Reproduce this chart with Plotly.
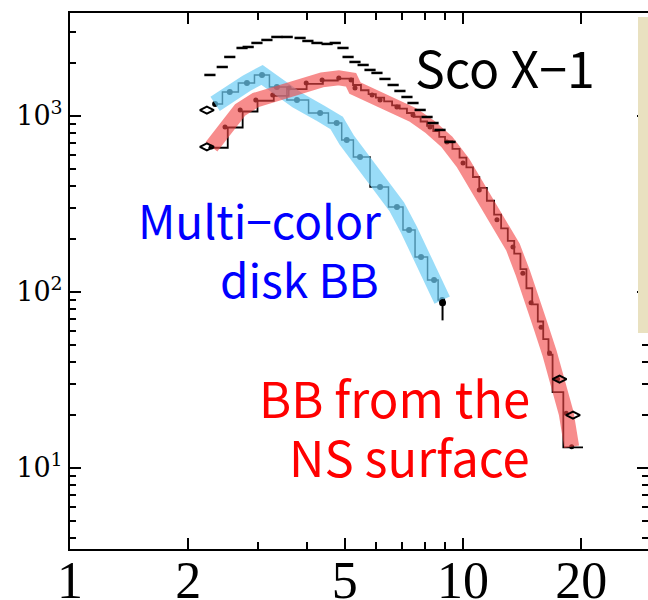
import plotly.graph_objects as go

# ---- data (energy in keV, counts) ----
total_E = [2.27, 2.44, 2.55, 2.74, 2.84, 2.99, 3.17, 3.36, 3.57, 3.85, 4.03, 4.25, 4.51, 4.73, 4.95,
           5.10, 5.31, 5.57, 5.80, 6.04, 6.33, 6.64, 6.91, 7.20, 7.46, 7.78, 8.10, 8.39, 8.74, 9.27]
total_C = [1710, 1898, 2164, 2434, 2466, 2599, 2703, 2811, 2811, 2775, 2668, 2599, 2566, 2599, 2434,
           2164, 2027, 1949, 1826, 1756, 1623, 1500, 1387, 1282, 1185, 1082, 987, 912, 833, 712]

bb_E = [2.29, 2.48, 2.71, 2.97, 3.28, 3.61, 3.99, 4.38, 4.83, 5.19, 5.31, 5.87, 6.15, 6.79, 7.46,
        8.24, 9.10, 10.0, 11.0, 12.2, 13.4, 14.2, 14.9, 15.8, 16.6, 17.4, 18.3, 18.9]
bb_C = [667, 866, 1082, 1233, 1316, 1442, 1540, 1603, 1645, 1603, 1442, 1316, 1233, 1125, 1013,
        866, 712, 541, 380, 257, 180, 128, 87, 63, 45, 32, 20.5, 13.2]

bb_step_E = [2.25, 2.52, 2.75, 3.0, 3.3, 3.6, 4.0, 4.4, 4.8, 5.25, 5.5, 5.75, 6.0, 6.3, 6.6, 6.9,
             7.2, 7.5, 7.8, 8.1, 8.4, 8.7, 9.0, 9.4, 9.8, 10.2, 10.6, 11.0, 11.5, 12.0, 12.5,
             13.0, 13.5, 14.0, 14.5, 15.0, 15.5, 16.0, 16.5, 16.9, 18.0, 20.2]
bb_step_C = [660, 860, 1060, 1220, 1300, 1420, 1520, 1590, 1630, 1500, 1400, 1330, 1270, 1210, 1150, 1100,
             1040, 990, 930, 880, 820, 760, 720, 650, 580, 510, 450, 390, 330, 275, 230,
             195, 165, 135, 105, 85, 68, 54, 44, 27, 13.1, 13.1]

disk_E = [2.34, 2.55, 2.82, 3.08, 3.36, 3.78, 4.33, 4.77, 5.06, 5.47, 6.15, 6.79, 7.29, 7.82, 8.44, 8.85]
disk_C = [1170, 1369, 1540, 1710, 1461, 1233, 1040, 912, 730, 585, 395, 304, 225, 158, 117, 90]

edge_E = [2.23, 2.23, 17.6, 19.05]
edge_C = [1080, 667, 32, 20]

last_E = [8.87]
last_C = [87]
last_err = [18]

x_tickvals = [1, 2, 5, 10, 20]
x_ticktext = ["1", "2", "5", "10", "20"]
x_minor = [3, 4, 6, 7, 8, 9, 30]
y_tickvals = [10, 100, 1000]
y_ticktext = ["10<sup>1</sup>", "10<sup>2</sup>", "10<sup>3</sup>"]
y_minor = [3, 4, 5, 6, 7, 8, 9, 20, 30, 40, 50, 60, 70, 80, 90,
           200, 300, 400, 500, 600, 700, 800, 900, 2000, 3000]

fig = go.Figure()

# black step histograms (underneath the coloured bands)
fig.add_trace(go.Scatter(x=bb_step_E, y=bb_step_C, mode="lines", line=dict(color="black", width=1.8, shape="hv"),
                         showlegend=False, hoverinfo="skip"))
fig.add_trace(go.Scatter(x=disk_E, y=disk_C, mode="lines+markers", line=dict(color="black", width=1.5, shape="hvh"),
                         marker=dict(color="black", size=6), showlegend=False, hoverinfo="skip"))
fig.add_trace(go.Scatter(x=bb_E, y=bb_C, mode="markers", marker=dict(color="black", size=5),
                         showlegend=False, hoverinfo="skip"))

# coloured model bands
fig.add_trace(go.Scatter(x=disk_E, y=disk_C, mode="lines",
                         line=dict(color="rgba(110,205,245,0.7)", width=17),
                         showlegend=False, hoverinfo="skip"))
fig.add_trace(go.Scatter(x=bb_E, y=bb_C, mode="lines",
                         line=dict(color="rgba(242,70,70,0.62)", width=15),
                         showlegend=False, hoverinfo="skip"))

# total spectrum (dashes)
fig.add_trace(go.Scatter(x=total_E, y=total_C, mode="markers",
                         marker=dict(symbol="line-ew", size=8, line=dict(color="black", width=2.5)),
                         showlegend=False, hoverinfo="skip"))
fig.add_trace(go.Scatter(x=edge_E, y=edge_C, mode="markers",
                         marker=dict(symbol="diamond-wide-open", size=10, color="black",
                                     line=dict(color="black", width=2)),
                         showlegend=False, hoverinfo="skip"))
fig.add_trace(go.Scatter(x=last_E, y=last_C, mode="markers",
                         marker=dict(color="black", size=7),
                         error_y=dict(type="data", array=[4], arrayminus=last_err, color="black", thickness=2, width=0),
                         showlegend=False, hoverinfo="skip"))

# plot area in page pixels: x 70..648, y 13..549
def px(xp):
    return (xp - 70) / 578.0

def py(yp):
    return (549 - yp) / 536.0

font_j = "Noto Sans CJK JP, Noto Sans, sans-serif"
ann = [
    dict(text="Sco X\u22121", x=px(413), y=py(66), xanchor="left", color="black", size=50),
    dict(text="Multi\u2212color", x=px(383), y=py(219), xanchor="right", color="#0000ff", size=46),
    dict(text="disk BB", x=px(381), y=py(278), xanchor="right", color="#0000ff", size=46),
    dict(text="BB from the", x=px(532), y=py(396), xanchor="right", color="#ff0000", size=49),
    dict(text="NS surface", x=px(532), y=py(455), xanchor="right", color="#ff0000", size=49),
]
for a in ann:
    fig.add_annotation(text=a["text"], x=a["x"], y=a["y"], xref="paper", yref="paper",
                       xanchor=a["xanchor"], yanchor="middle", showarrow=False,
                       font=dict(family=font_j, size=a["size"], color=a["color"]))

# beige panel at the right edge
fig.add_shape(type="rect", xref="paper", yref="paper", x0=px(638), x1=1.02, y0=py(333), y1=py(17),
              fillcolor="rgb(233,225,192)", line=dict(width=0), layer="above")

fig.update_xaxes(type="log", range=[0, 1.4707], tickvals=x_tickvals, ticktext=x_ticktext, automargin=False,
                 ticks="inside", ticklen=11, tickwidth=2, tickcolor="black", ticklabelstandoff=-15,
                 minor=dict(ticks="inside", ticklen=7, tickwidth=2, tickcolor="black", tickvals=x_minor),
                 showline=True, linewidth=2, linecolor="black", mirror="ticks", showgrid=False, zeroline=False,
                 tickfont=dict(family="Liberation Serif, serif", size=52, color="black"))
fig.update_yaxes(type="log", range=[0.540, 3.585], tickvals=y_tickvals, ticktext=y_ticktext, automargin=False,
                 ticks="inside", ticklen=11, tickwidth=2, tickcolor="black",
                 minor=dict(ticks="inside", ticklen=6, tickwidth=2, tickcolor="black", tickvals=y_minor),
                 showline=True, linewidth=2, linecolor="black", mirror="ticks", showgrid=False, zeroline=False,
                 tickfont=dict(family="DejaVu Serif, serif", size=27, color="black"))

fig.update_layout(width=648, height=600, autosize=False,
                  margin=dict(l=70, r=0, t=13, b=51),
                  plot_bgcolor="white", paper_bgcolor="white", showlegend=False)

# remove the default 8px page margin so the figure fills the 648x600 window exactly
fig.write_html("out.html", config={"displayModeBar": False},
               post_script="document.body.style.margin='0';document.body.style.overflow='hidden';")
